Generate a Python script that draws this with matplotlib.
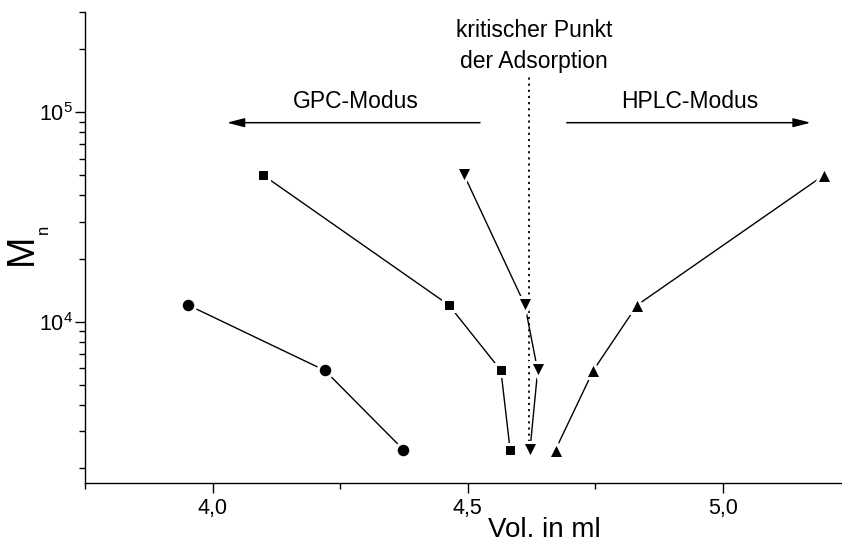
import matplotlib
matplotlib.use("Agg")
import matplotlib.pyplot as plt
from matplotlib.ticker import FixedLocator, LogLocator, NullFormatter

plt.rcParams['font.family'] = ['Liberation Sans', 'DejaVu Sans']
plt.rcParams['mathtext.fontset'] = 'custom'
plt.rcParams['mathtext.rm'] = 'Liberation Sans'
plt.rcParams['mathtext.it'] = 'Liberation Sans'
plt.rcParams['mathtext.default'] = 'regular'

# Elution volume (ml) vs. number-average molar mass for four eluent conditions
mn_levels = [12000, 5850, 2450]
vol_circle = [3.952, 4.220, 4.374]

mn_square = [50000, 12000, 5850, 2450]
vol_square = [4.099, 4.463, 4.565, 4.583]

mn_tri_down = [50000, 12000, 5850, 2450]
vol_tri_down = [4.493, 4.612, 4.637, 4.622]

mn_tri_up = [2450, 5850, 12000, 50000]
vol_tri_up = [4.672, 4.746, 4.832, 5.198]

critical_vol = 4.62

x_major = [4.0, 4.5, 5.0]
x_minor = [3.75, 4.25, 4.75, 5.25]

W, H = 842, 546
fig = plt.figure(figsize=(W / 100, H / 100), dpi=100)
ax = fig.add_axes([85 / W, 63 / H, (850.5 - 85) / W, 471 / H])

line_kw = dict(color='black', lw=1.0, mfc='black', mec='white', mew=2.2)
ax.plot(vol_circle, mn_levels, marker='o', ms=10.5, **line_kw)
ax.plot(vol_square, mn_square, marker='s', ms=8.6, **line_kw)
ax.plot(vol_tri_down, mn_tri_down, marker='v', ms=11.5, **line_kw)
ax.plot(vol_tri_up, mn_tri_up, marker='^', ms=11.5, **line_kw)

# critical point of adsorption
ax.plot([critical_vol, critical_vol], [0.075, 0.864], ls=(0, (1.2, 2.2)), lw=1.3,
        color='black', transform=ax.get_xaxis_transform(), zorder=1)
ax.text(4.63, 0.928, 'kritischer Punkt\nder Adsorption', transform=ax.get_xaxis_transform(),
        ha='center', va='center', fontsize=16.5, linespacing=1.4)

# separation-mode arrows
arrow_kw = dict(arrowstyle='-|>,head_length=0.7,head_width=0.18', color='black',
                lw=1.1, mutation_scale=15, shrinkA=0, shrinkB=0)
ax.annotate('', xy=(4.028, 0.765), xytext=(4.524, 0.765),
            xycoords=ax.get_xaxis_transform(), textcoords=ax.get_xaxis_transform(),
            arrowprops=arrow_kw)
ax.annotate('', xy=(5.172, 0.765), xytext=(4.694, 0.765),
            xycoords=ax.get_xaxis_transform(), textcoords=ax.get_xaxis_transform(),
            arrowprops=arrow_kw)
ax.text(4.28, 0.81, 'GPC-Modus', transform=ax.get_xaxis_transform(),
        ha='center', va='center', fontsize=16.5)
ax.text(4.935, 0.81, 'HPLC-Modus', transform=ax.get_xaxis_transform(),
        ha='center', va='center', fontsize=16.5)

ax.set_yscale('log')
ax.set_xlim(3.75, 5.25)
ax.set_ylim(1700, 3e5)

ax.xaxis.set_major_locator(FixedLocator(x_major))
ax.xaxis.set_minor_locator(FixedLocator(x_minor))
ax.set_xticklabels([f'{v:.1f}'.replace('.', ',') for v in x_major])
ax.yaxis.set_major_locator(LogLocator(base=10, numticks=10))
ax.yaxis.set_minor_locator(LogLocator(base=10, subs=range(2, 10), numticks=20))
ax.yaxis.set_minor_formatter(NullFormatter())

ax.tick_params(which='major', direction='out', length=7, width=1.0, labelsize=15.5)
ax.tick_params(which='minor', direction='out', length=4, width=1.0)
ax.tick_params(axis='y', which='major', pad=1.5)
ax.tick_params(axis='x', which='major', pad=4)

for side in ('top', 'right'):
    ax.spines[side].set_visible(False)
for side in ('left', 'bottom'):
    ax.spines[side].set_linewidth(1.0)

# axis titles
ax.set_xlabel('Vol. in ml', fontsize=20)
ax.xaxis.set_label_coords(0.6, -0.1)
ax.xaxis.label.set_va('center')
fig.text(21.5 / W, 1 - 249 / H, 'M', rotation=90, ha='center', va='center', fontsize=27)
fig.text(43 / W, 1 - 229 / H, 'n', rotation=90, ha='center', va='center', fontsize=12)

fig.savefig('out.png', dpi=100)
